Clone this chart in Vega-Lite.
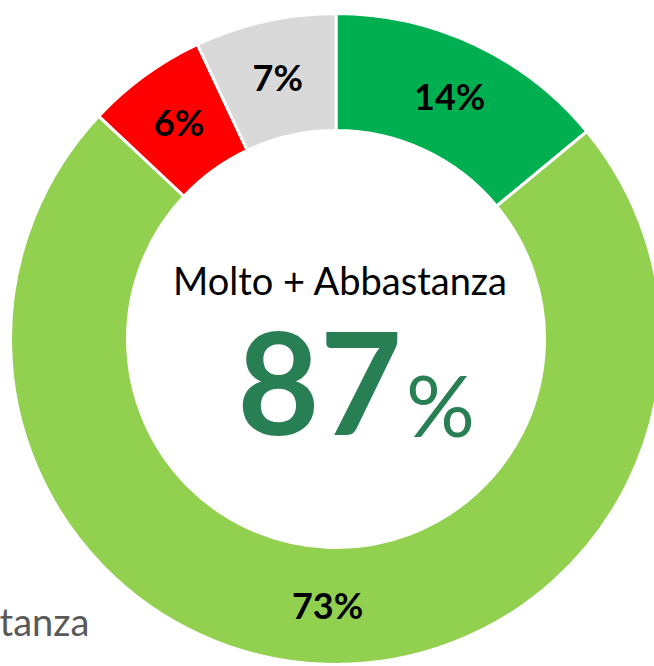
{
  "$schema": "https://vega.github.io/schema/vega-lite/v6.json",
  "width": 636,
  "height": 654,
  "padding": {"left": 18, "top": 12, "right": 0, "bottom": 0},
  "autosize": {"type": "none"},
  "background": "white",
  "config": {"view": {"stroke": null}, "font": "Lato"},
  "datasets": {
    "slices": [
      {"idx": 1, "categoria": "Molto", "valore": 14, "etichetta": "14%"},
      {"idx": 2, "categoria": "Abbastanza", "valore": 73, "etichetta": "73%"},
      {"idx": 3, "categoria": "Per niente", "valore": 6, "etichetta": "6%"},
      {"idx": 4, "categoria": "Non so", "valore": 7, "etichetta": "7%"}
    ],
    "centro": [
      {"titolo": "Molto + Abbastanza", "totale": "87", "simbolo": "%"}
    ]
  },
  "layer": [
    {
      "data": {"name": "slices"},
      "mark": {"type": "arc", "innerRadius": 208.5, "outerRadius": 325.5, "stroke": "white", "strokeWidth": 3},
      "encoding": {
        "theta": {"field": "valore", "type": "quantitative", "stack": true},
        "order": {"field": "idx", "type": "quantitative"},
        "color": {
          "field": "categoria",
          "type": "nominal",
          "scale": {
            "domain": ["Molto", "Abbastanza", "Per niente", "Non so"],
            "range": ["#00B050", "#92D050", "#FF0000", "#D9D9D9"]
          },
          "legend": {
            "values": ["Abbastanza"],
            "orient": "none",
            "legendX": -170,
            "legendY": 594,
            "title": null,
            "padding": 0,
            "symbolType": "square",
            "symbolSize": 300,
            "labelFont": "Lato",
            "labelFontSize": 38,
            "labelColor": "#595959",
            "labelOffset": 10,
            "labelLimit": 400
          }
        }
      }
    },
    {
      "data": {"name": "slices"},
      "mark": {"type": "text", "radius": 267, "font": "Lato", "fontWeight": "bold", "fontSize": 36, "color": "black", "align": "center", "baseline": "middle", "dy": 2},
      "encoding": {
        "theta": {"field": "valore", "type": "quantitative", "stack": true},
        "order": {"field": "idx", "type": "quantitative"},
        "text": {"field": "etichetta", "type": "nominal"}
      }
    },
    {
      "data": {"name": "centro"},
      "mark": {"type": "text", "font": "Lato", "fontSize": 38, "color": "black", "align": "center", "baseline": "alphabetic", "dx": 4, "dy": -44},
      "encoding": {"text": {"field": "titolo", "type": "nominal"}}
    },
    {
      "data": {"name": "centro"},
      "mark": {"type": "text", "font": "Lato", "fontWeight": "bold", "fontSize": 142, "color": "#297F54", "align": "right", "baseline": "alphabetic", "dx": 66, "dy": 96},
      "encoding": {"text": {"field": "totale", "type": "nominal"}}
    },
    {
      "data": {"name": "centro"},
      "mark": {"type": "text", "font": "Lato", "fontSize": 86, "color": "#297F54", "align": "left", "baseline": "alphabetic", "dx": 70, "dy": 98},
      "encoding": {"text": {"field": "simbolo", "type": "nominal"}}
    }
  ]
}
